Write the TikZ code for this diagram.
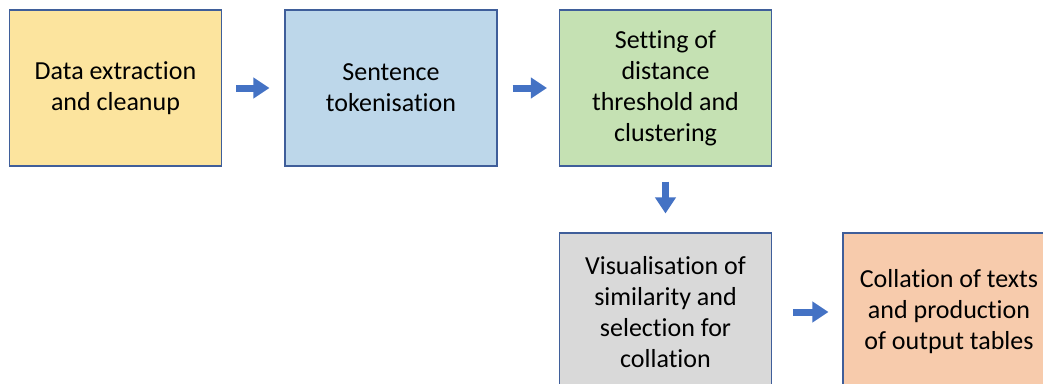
\documentclass[tikz,border=0pt]{standalone}
\usepackage{fontspec}
\setmainfont{Carlito}[Ligatures=NoCommon]
\usetikzlibrary{arrows.meta}
\definecolor{edge}{HTML}{3F5E9A}
\definecolor{arr}{HTML}{4472C4}
\definecolor{fyellow}{HTML}{FCE49E}
\definecolor{fblue}{HTML}{BDD7EA}
\definecolor{fgreen}{HTML}{C5E1B3}
\definecolor{fgray}{HTML}{D9D9D9}
\definecolor{forange}{HTML}{F7CBAC}
\tikzset{
  stepbox/.style={draw=edge, line width=1.1pt, minimum width=212pt, minimum height=156pt,
    inner sep=0pt, align=center, font=\fontsize{26pt}{31pt}\selectfont, text=black},
  blockarrow/.style={draw=arr, line width=7pt,
    -{Triangle[length=16pt,width=20pt]}}
}
\begin{document}
\begin{tikzpicture}[x=1pt,y=-1pt]
\useasboundingbox (0,0) rectangle (1043,383);
\clip (0,0) rectangle (1043,383);
\node[stepbox, fill=fyellow] (a) at (115.5,88) {Data extraction\\and cleanup};
\node[stepbox, fill=fblue] (b) at (391,88) {Sentence\\tokenisation};
\node[stepbox, fill=fgreen] (c) at (665.5,88) {Setting of\\distance\\threshold and\\clustering};
\node[stepbox, fill=fgray, minimum height=158pt] (d) at (665.5,312) {Visualisation of\\similarity and\\selection for\\collation};
\node[stepbox, fill=forange, minimum height=158pt] (e) at (949,312) {Collation of texts\\and production\\of output tables};
\draw[blockarrow] ([xshift=14pt]a.east) -- ([xshift=-15pt]b.west);
\draw[blockarrow] ([xshift=15pt]b.east) -- ([xshift=-12pt]c.west);
\draw[blockarrow] ([yshift=-15pt]c.south) -- ([yshift=19pt]d.north);
\draw[blockarrow] ([xshift=21pt]d.east) -- ([xshift=-14pt]e.west);
\end{tikzpicture}
\end{document}
